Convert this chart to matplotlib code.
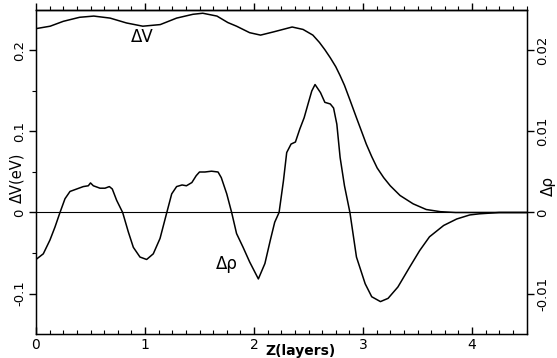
import matplotlib
matplotlib.use('Agg')
import matplotlib.pyplot as plt
from matplotlib.ticker import FixedLocator, MultipleLocator

# Delta V (eV), left axis
z_v = [0.0, 0.13, 0.25, 0.40, 0.53, 0.68, 0.83, 0.98, 1.14, 1.29, 1.44, 1.53, 1.66,
       1.76, 1.84, 1.96, 2.06, 2.18, 2.35, 2.45, 2.54, 2.60, 2.65, 2.70, 2.75, 2.79,
       2.83, 2.88, 2.94, 2.99, 3.03, 3.08, 3.13, 3.19, 3.25, 3.34, 3.46, 3.58, 3.71,
       3.85, 4.5]
dv = [0.227, 0.230, 0.236, 0.241, 0.2425, 0.240, 0.234, 0.230, 0.232, 0.240, 0.2447,
      0.246, 0.2425, 0.2345, 0.230, 0.222, 0.219, 0.223, 0.229, 0.226, 0.219, 0.210,
      0.201, 0.191, 0.180, 0.169, 0.157, 0.139, 0.117, 0.099, 0.0845, 0.069, 0.055,
      0.043, 0.033, 0.021, 0.0107, 0.0037, 0.001, 0.0, 0.0]

# Delta rho, right axis
z_rho = [0.0, 0.067, 0.128, 0.174, 0.22, 0.266, 0.312, 0.373, 0.434, 0.48, 0.50, 0.526,
         0.587, 0.633, 0.673, 0.70, 0.74, 0.795, 0.847, 0.893, 0.954, 1.015, 1.076,
         1.138, 1.20, 1.245, 1.29, 1.34, 1.38, 1.43, 1.47, 1.50, 1.55, 1.61, 1.67, 1.70,
         1.75, 1.795, 1.84, 1.90, 1.96, 2.04, 2.10, 2.15, 2.19, 2.23, 2.27, 2.30, 2.34,
         2.38, 2.42, 2.46, 2.50, 2.53, 2.56, 2.61, 2.65, 2.70, 2.73, 2.76, 2.79, 2.83,
         2.88, 2.94, 3.02, 3.08, 3.16, 3.23, 3.32, 3.43, 3.52, 3.61, 3.74, 3.86, 3.98,
         4.07, 4.25, 4.5]
drho = [-0.0058, -0.0051, -0.0034, -0.0018, 0.0, 0.0017, 0.0026, 0.0029, 0.0032, 0.0033,
        0.00365, 0.0033, 0.0030, 0.0030, 0.0032, 0.0029, 0.0015, 0.0, -0.0024, -0.0043,
        -0.0055, -0.0058, -0.0051, -0.0032, 0.0, 0.0023, 0.0032, 0.0034, 0.0033, 0.0037,
        0.00455, 0.0050, 0.0050, 0.0051, 0.0050, 0.0043, 0.0023, 0.0, -0.0026, -0.0043,
        -0.0061, -0.0082, -0.0063, -0.0034, -0.0012, 0.0, 0.0039, 0.0074, 0.00845,
        0.0087, 0.0103, 0.0117, 0.0136, 0.0150, 0.0158, 0.0148, 0.0136, 0.0134, 0.0129,
        0.0109, 0.0068, 0.0033, 0.0, -0.0055, -0.0088, -0.0104, -0.0110, -0.0106,
        -0.0092, -0.0067, -0.0047, -0.0030, -0.0016, -0.0008, -0.0003, -0.00016, 0.0,
        0.0]

x_ticks = [0, 1, 2, 3, 4]
x_ticklabels = ['0', '1', '2', '3', '4']
left_ticks = [-0.1, 0.0, 0.1, 0.2]
left_ticklabels = ['-0.1', '0', '0.1', '0.2']
right_ticks = [-0.01, 0.0, 0.01, 0.02]
right_ticklabels = ['-0.01', '0', '0.01', '0.02']

plt.rcParams['font.family'] = ['DejaVu Sans']

W, H = 557, 358
fig = plt.figure(figsize=(W / 100, H / 100), dpi=100)
ax = fig.add_axes([36 / W, 24 / H, 490.5 / W, 324 / H])
ax.set_xlim(0, 4.5)
ax.set_ylim(-0.15, 0.25)

ax.plot(z_v, dv, color='black', lw=1.1)
ax.axhline(0, color='black', lw=0.8)

for s in ax.spines.values():
    s.set_linewidth(1.0)

# x axis
ax.xaxis.set_major_locator(FixedLocator(x_ticks))
ax.set_xticklabels(x_ticklabels, fontsize=10)
ax.xaxis.set_minor_locator(MultipleLocator(0.125))
ax.tick_params(axis='x', which='major', direction='in', length=5, width=1, pad=3)
ax.tick_params(axis='x', which='minor', direction='in', length=3, width=0.8)

top = ax.secondary_xaxis('top')
top.xaxis.set_major_locator(FixedLocator(x_ticks))
top.xaxis.set_minor_locator(MultipleLocator(0.125))
top.set_xticklabels([])
top.tick_params(which='major', direction='out', length=5, width=1)
top.tick_params(which='minor', direction='out', length=3, width=0.8)
top.spines['top'].set_linewidth(1.0)

# left y axis
ax.yaxis.set_major_locator(FixedLocator(left_ticks))
ax.set_yticklabels(left_ticklabels, fontsize=9.5, rotation=90, va='center')
ax.yaxis.set_minor_locator(FixedLocator([-0.05, 0.05, 0.15]))
ax.tick_params(axis='y', which='major', direction='out', length=5, width=1, pad=2)
ax.tick_params(axis='y', which='minor', direction='out', length=3, width=0.8)

# right y axis
ax2 = ax.twinx()
ax2.set_ylim(-0.015, 0.025)
ax2.plot(z_rho, drho, color='black', lw=1.1)
ax2.yaxis.set_major_locator(FixedLocator(right_ticks))
ax2.set_yticklabels(right_ticklabels, fontsize=9.5, rotation=90, va='center')
ax2.tick_params(axis='y', which='major', direction='out', length=5, width=1, pad=2)

# labels
fig.text(17 / W, 1 - 178 / H, 'ΔV(eV)', rotation=90, ha='center', va='center', fontsize=10.5)
fig.text(548 / W, 1 - 186 / H, 'Δρ', rotation=90, ha='center', va='center', fontsize=11)
fig.text(301 / W, 1 - 351 / H, 'Z(layers)', ha='center', va='center', fontsize=10, fontweight='bold')
fig.text(142 / W, 1 - 37 / H, 'ΔV', ha='center', va='center', fontsize=12)
fig.text(227 / W, 1 - 264 / H, 'Δρ', ha='center', va='center', fontsize=12)

fig.savefig('out.png', dpi=100)
